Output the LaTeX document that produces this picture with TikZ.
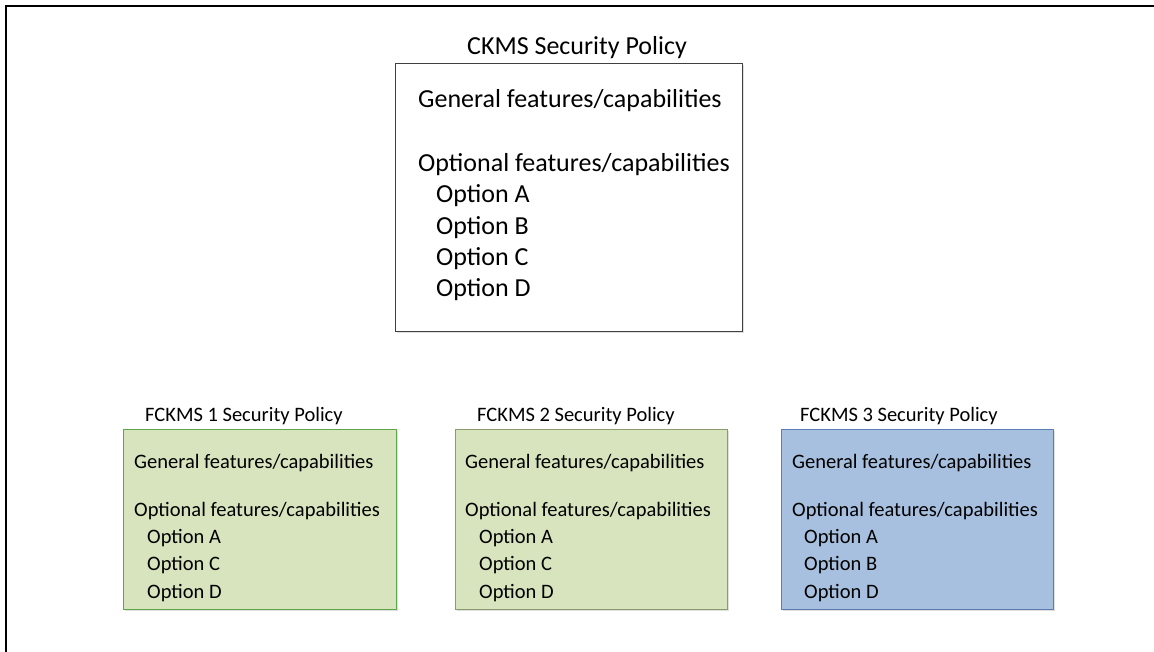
\documentclass[tikz,border=0pt]{standalone}
\usepackage{fontspec}
\setmainfont{Carlito}
\usetikzlibrary{shadows}

\definecolor{fillgreen}{HTML}{D7E4BD}
\definecolor{fillblue}{HTML}{A7C0DF}
\definecolor{linegreen}{HTML}{5FA64A}
\definecolor{lineolive}{HTML}{8C9A6E}
\definecolor{lineblue}{HTML}{5B7DB1}
\definecolor{linegray}{HTML}{404040}

\tikzset{
  policybox/.style={line width=1pt, drop shadow={opacity=0.25, shadow xshift=1.5pt, shadow yshift=-1.5pt}},
  bigtext/.style={anchor=west, inner sep=0pt, font=\fontsize{26}{30}\selectfont},
  smalltext/.style={anchor=west, inner sep=0pt, font=\fontsize{20.5}{24}\selectfont},
}

\begin{document}
\begin{tikzpicture}[x=1pt,y=-1pt]
    \useasboundingbox (0,0) rectangle (1154,652);
    \draw[line width=2.5pt] (6,652) -- (6,6) -- (1154,6);

    % main policy
    \draw[policybox, draw=linegray, fill=white] (395,64) rectangle (742,332);
    \node[bigtext, anchor=center] (ckms) at (577,48) {CKMS Security Policy};
    \node[bigtext] (ckmsgen) at (418,101) {General features/capabilities};
    \node[bigtext] (ckmsopt) at (418,165) {Optional features/capabilities};
    \node[bigtext] (ckmsa) at (436,196) {Option A};
    \node[bigtext] (ckmsb) at (436,228) {Option B};
    \node[bigtext] (ckmsc) at (436,259) {Option C};
    \node[bigtext] (ckmsd) at (436,290) {Option D};

    % FCKMS 1
    \draw[policybox, draw=linegreen, fill=fillgreen] (123,429) rectangle (396,609);
    \node[smalltext] (fone) at (145,416) {FCKMS 1 Security Policy};
    \node[smalltext] (fonegen) at (134,463) {General features/capabilities};
    \node[smalltext] (foneopt) at (134,511) {Optional features/capabilities};
    \node[smalltext] (fonea) at (147,538) {Option A};
    \node[smalltext] (fonec) at (147,565) {Option C};
    \node[smalltext] (foned) at (147,593) {Option D};

    % FCKMS 2
    \draw[policybox, draw=lineolive, fill=fillgreen] (455,429) rectangle (727,609);
    \node[smalltext] (ftwo) at (477,416) {FCKMS 2 Security Policy};
    \node[smalltext] (ftwogen) at (465,463) {General features/capabilities};
    \node[smalltext] (ftwoopt) at (465,511) {Optional features/capabilities};
    \node[smalltext] (ftwoa) at (479,538) {Option A};
    \node[smalltext] (ftwoc) at (479,565) {Option C};
    \node[smalltext] (ftwod) at (479,593) {Option D};

    % FCKMS 3
    \draw[policybox, draw=lineblue, fill=fillblue] (781,429) rectangle (1053,609);
    \node[smalltext] (fthree) at (800,416) {FCKMS 3 Security Policy};
    \node[smalltext] (fthreegen) at (792,463) {General features/capabilities};
    \node[smalltext] (fthreeopt) at (792,511) {Optional features/capabilities};
    \node[smalltext] (fthreea) at (804,538) {Option A};
    \node[smalltext] (fthreeb) at (804,565) {Option B};
    \node[smalltext] (fthreed) at (804,593) {Option D};
\end{tikzpicture}
\end{document}
